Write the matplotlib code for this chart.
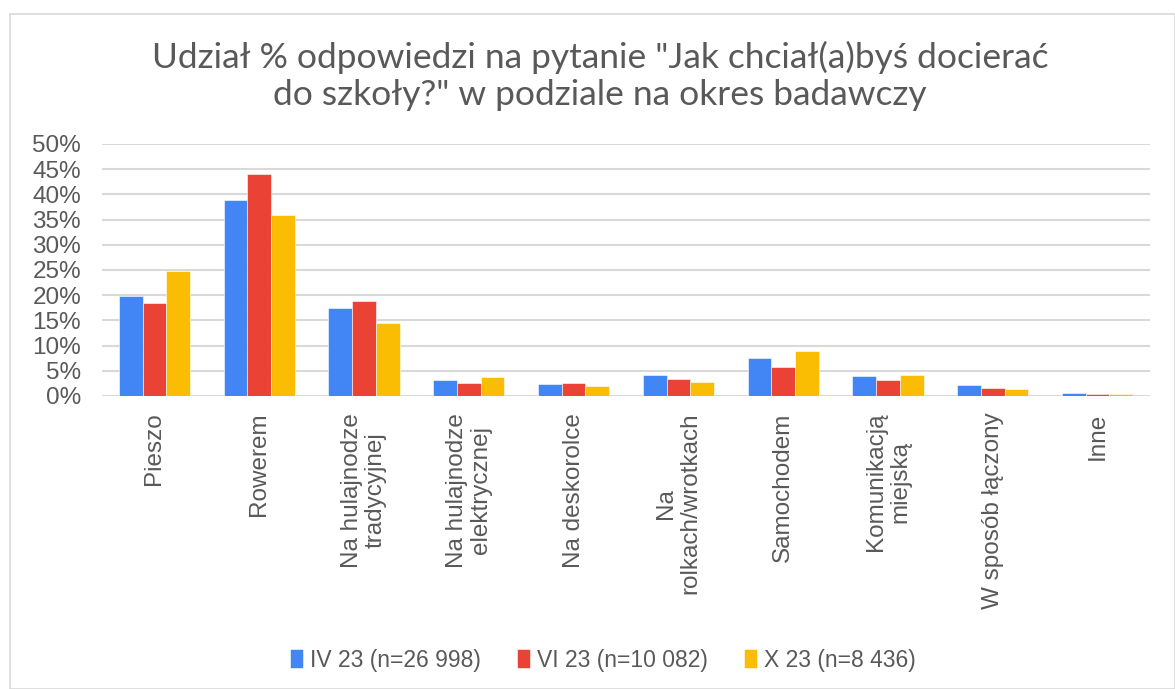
import matplotlib
matplotlib.use("Agg")
import matplotlib.pyplot as plt
import numpy as np
from matplotlib.patches import Rectangle
from matplotlib.ticker import FuncFormatter

categories = ["Pieszo", "Rowerem", "Na hulajnodze\ntradycyjnej", "Na hulajnodze\nelektrycznej",
              "Na deskorolce", "Na\nrolkach/wrotkach", "Samochodem", "Komunikacją\nmiejską",
              "W sposób łączony", "Inne"]
series_names = ["IV 23 (n=26 998)", "VI 23 (n=10 082)", "X 23 (n=8 436)"]
iv23 = [19.9, 38.9, 17.4, 3.1, 2.3, 4.2, 7.5, 4.0, 2.1, 0.6]
vi23 = [18.4, 44.1, 18.8, 2.5, 2.5, 3.3, 5.7, 3.1, 1.5, 0.3]
x23 = [24.8, 35.9, 14.5, 3.7, 1.9, 2.8, 8.9, 4.1, 1.3, 0.45]
yticks = [0, 5, 10, 15, 20, 25, 30, 35, 40, 45, 50]
title = 'Udział % odpowiedzi na pytanie "Jak chciał(a)byś docierać\ndo szkoły?" w podziale na okres badawczy'

colors = ["#4285F4", "#EA4335", "#FBBC04"]
text_color = "#595959"

fig = plt.figure(figsize=(11.75, 6.89), dpi=100)
fig.patches.append(Rectangle((10/1175, 0), 1 - 10/1175, 1 - 14/689, transform=fig.transFigure,
                             fill=False, edgecolor="#d9d9d9", linewidth=1.2))
ax = fig.add_axes([102/1175, 1 - 396/689, (1150 - 102)/1175, (396 - 144)/689])

x = np.arange(len(categories))
w = 0.226
for i, (vals, name) in enumerate(zip([iv23, vi23, x23], series_names)):
    ax.bar(x + (i - 1) * w, vals, width=w, color=colors[i], label=name, zorder=3,
           edgecolor="white", linewidth=0.4)

ax.set_xlim(-0.5, len(categories) - 0.5)
ax.set_ylim(0, 50)
ax.set_yticks(yticks)
ax.yaxis.set_major_formatter(FuncFormatter(lambda v, p: f"{int(v)}%"))
ax.grid(axis="y", color="#d9d9d9", linewidth=1.5, zorder=0)
for s in ax.spines.values():
    s.set_visible(False)
ax.tick_params(axis="both", length=0, colors=text_color, labelsize=17.5)
ax.tick_params(axis="y", pad=15)
for lbl in ax.get_yticklabels():
    lbl.set_fontfamily("Liberation Sans")
ax.set_xticks(x)
ax.set_xticklabels(categories, rotation=90, ha="center", va="top", multialignment="center",
                   fontfamily="Liberation Sans", fontsize=17.5, color=text_color,
                   linespacing=1.12)
ax.tick_params(axis="x", pad=12)

fig.text(600/1175, 1 - 76/689, title, ha="center", va="center", fontsize=25.5,
         color=text_color, fontfamily="Lato", linespacing=1.2)

leg = fig.legend(loc="center", bbox_to_anchor=(603/1175, 1 - 660/689), ncol=3, frameon=False,
                 prop={"family": "Liberation Sans", "size": 16.5}, handlelength=0.55,
                 handleheight=0.9, handletextpad=0.3, columnspacing=1.6)
for t in leg.get_texts():
    t.set_color(text_color)

fig.savefig("out.png", dpi=100)
